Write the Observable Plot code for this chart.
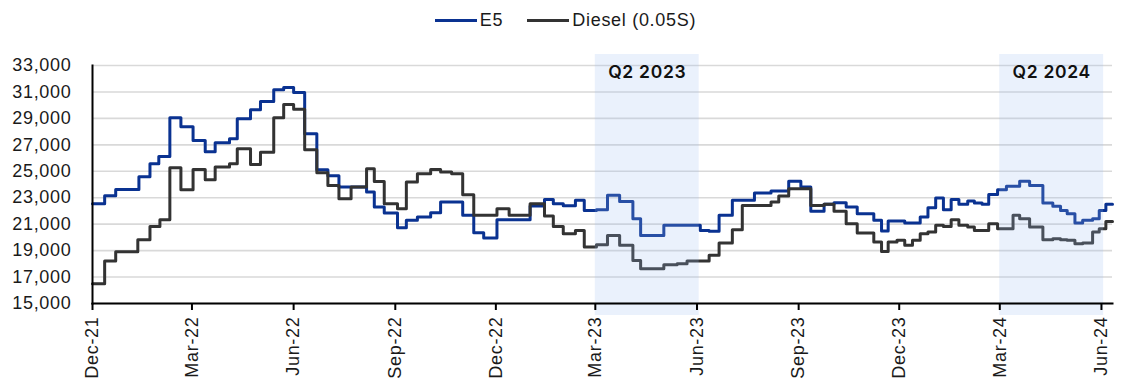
<!DOCTYPE html>
<html>
<head>
<meta charset="utf-8">
<script src="https://cdn.jsdelivr.net/npm/d3@7"></script>
<script src="https://cdn.jsdelivr.net/npm/@observablehq/plot@0.6"></script>
<style>
  html, body { margin: 0; padding: 0; background: #fff; }
  body { width: 1121px; height: 391px; overflow: hidden; font-family: "Liberation Sans", Arial, sans-serif; }
  #legend { height: 40px; display: flex; justify-content: center; align-items: center; gap: 24px; padding-left: 10px; font-size: 18px; letter-spacing: 0.7px; color: #1a1a1a; }
  .item { display: flex; align-items: center; gap: 3px; }
  .sw { width: 42px; height: 3px; display: inline-block; }
  #chart svg { display: block; }
</style>
</head>
<body>
<div id="legend"></div>
<div id="chart"></div>
<script>
// ---- Data (VND/litre), step changes ----
const e5Dates = ["2021-12-01","2021-12-12","2021-12-22","2022-01-12","2022-01-22","2022-01-30","2022-02-09","2022-02-19","2022-03-02","2022-03-13","2022-03-22","2022-04-04","2022-04-11","2022-04-23","2022-05-02","2022-05-14","2022-05-23","2022-06-01","2022-06-11","2022-06-22","2022-07-02","2022-07-12","2022-08-06","2022-08-13","2022-08-22","2022-09-03","2022-09-11","2022-09-21","2022-10-03","2022-10-12","2022-11-01","2022-11-11","2022-11-20","2022-12-02","2023-01-01","2023-01-14","2023-01-22","2023-01-31","2023-02-11","2023-02-19","2023-03-02","2023-03-12","2023-03-23","2023-04-04","2023-04-11","2023-05-02","2023-06-04","2023-06-12","2023-06-21","2023-07-03","2023-07-23","2023-08-07","2023-08-23","2023-09-03","2023-09-12","2023-09-24","2023-10-03","2023-10-14","2023-10-24","2023-11-08","2023-11-15","2023-11-21","2023-12-06","2023-12-20","2023-12-27","2024-01-03","2024-01-10","2024-01-17","2024-01-24","2024-02-01","2024-02-07","2024-02-14","2024-02-20","2024-02-28","2024-03-07","2024-03-19","2024-03-28","2024-04-09","2024-04-18","2024-04-25","2024-05-01","2024-05-08","2024-05-15","2024-05-24","2024-05-30","2024-06-05","2024-06-11"];
const e5Values = [22550,23150,23630,24590,25570,26120,29050,28370,27330,26480,27160,27460,28970,29650,30280,31160,31340,30960,27840,25120,24660,23810,23430,22290,21840,20730,21290,21540,21870,22670,21670,20360,19950,21340,22370,22870,22550,22400,22800,22040,22090,23180,22720,21410,20150,20910,20530,20460,21670,22800,23350,23500,24240,23810,21970,22500,22620,22290,21790,21290,20480,21240,21090,21540,22240,22970,22090,22870,22500,22750,22600,22500,23250,23600,23860,24240,23930,22600,22350,22040,21790,21090,21290,21410,22040,22500,22500];

const dieselDates = ["2021-12-01","2021-12-12","2021-12-22","2022-01-11","2022-01-22","2022-01-31","2022-02-09","2022-02-19","2022-03-02","2022-03-13","2022-03-22","2022-04-04","2022-04-11","2022-04-23","2022-05-02","2022-05-14","2022-05-23","2022-06-01","2022-06-11","2022-06-22","2022-07-02","2022-07-12","2022-07-23","2022-08-06","2022-08-13","2022-08-22","2022-09-03","2022-09-11","2022-09-21","2022-10-03","2022-10-12","2022-10-22","2022-11-01","2022-11-11","2022-12-02","2022-12-13","2023-01-01","2023-01-14","2023-01-22","2023-01-31","2023-02-11","2023-02-19","2023-03-02","2023-03-12","2023-03-23","2023-04-04","2023-04-11","2023-05-02","2023-05-14","2023-05-23","2023-06-12","2023-06-21","2023-07-03","2023-07-12","2023-08-07","2023-08-14","2023-08-23","2023-09-12","2023-09-24","2023-10-03","2023-10-14","2023-10-24","2023-11-08","2023-11-15","2023-11-21","2023-11-29","2023-12-06","2023-12-13","2023-12-20","2023-12-27","2024-01-03","2024-01-10","2024-01-17","2024-01-24","2024-02-01","2024-02-07","2024-02-20","2024-02-28","2024-03-13","2024-03-19","2024-03-28","2024-04-09","2024-04-18","2024-04-25","2024-05-01","2024-05-08","2024-05-15","2024-05-24","2024-05-30","2024-06-05","2024-06-11"];
const dieselValues = [16500,18210,18920,19830,20830,21340,25270,23600,25140,24360,25320,25570,26700,25520,26430,29050,30050,29700,26630,24890,23930,22920,23810,25190,24230,22550,22170,24180,24810,25140,24940,24810,23230,21670,22170,21670,22550,21610,20830,20280,20530,19270,19450,20150,19400,18260,17630,17940,18010,18210,18640,19570,20580,22420,22670,23130,23680,22420,22500,21970,21040,20330,19650,18940,19650,19780,19400,19780,20280,20400,20910,20830,21340,20910,20780,20530,21040,20660,21670,21410,20780,19830,19900,19830,19780,19520,19570,20400,20660,21210,21210];

const seriesNames = ["E5", "Diesel (0.05S)"];
const seriesColors = ["#0a3291", "#333333"];

const bandStarts = ["2023-03-01", "2024-03-01"];
const bandEnds = ["2023-06-03", "2024-06-03"];
const bandLabels = ["Q2 2023", "Q2 2024"];

const xTickDates = ["2021-12-01","2022-03-01","2022-06-01","2022-09-01","2022-12-01","2023-03-01","2023-06-01","2023-09-01","2023-12-01","2024-03-01","2024-06-01"];
const xTickLabels = ["Dec-21","Mar-22","Jun-22","Sep-22","Dec-22","Mar-23","Jun-23","Sep-23","Dec-23","Mar-24","Jun-24"];
const yTicks = [15000,17000,19000,21000,23000,25000,27000,29000,31000,33000];

// ---- Build tables ----
const parse = d3.utcParse("%Y-%m-%d");
const rows = [
  ...e5Dates.map((d, i) => ({date: parse(d), value: e5Values[i], series: seriesNames[0]})),
  ...dieselDates.map((d, i) => ({date: parse(d), value: dieselValues[i], series: seriesNames[1]}))
];
const bands = bandStarts.map((s, i) => ({
  x1: parse(s), x2: parse(bandEnds[i]), label: bandLabels[i],
  mid: new Date((parse(s).getTime() + parse(bandEnds[i]).getTime()) / 2)
}));
const tickDates = xTickDates.map(parse);
const tickLabelOf = new Map(tickDates.map((d, i) => [+d, xTickLabels[i]]));

// ---- Legend ----
const legend = document.getElementById("legend");
seriesNames.forEach((n, i) => {
  const it = document.createElement("span");
  it.className = "item";
  it.innerHTML = `<span class="sw" style="background:${seriesColors[i]}"></span><span>${n}</span>`;
  legend.appendChild(it);
});

// ---- Chart ----
const chart = Plot.plot({
  width: 1121,
  height: 351,
  marginTop: 25,
  marginBottom: 88,
  marginLeft: 92,
  marginRight: 9,
  style: {fontFamily: "'Liberation Sans', Arial, sans-serif", fontSize: "18px", color: "#1a1a1a", letterSpacing: "0.7px"},
  x: {type: "utc", domain: [parse(e5Dates[0]), parse(e5Dates[e5Dates.length - 1])], label: null},
  y: {domain: [15000, 33000], label: null},
  color: {domain: seriesNames, range: seriesColors},
  marks: [
    Plot.gridY(yTicks, {stroke: "#d9d9d9", strokeOpacity: 1, strokeWidth: 1.6}),
    Plot.line(rows, {x: "date", y: "value", z: "series", stroke: "series", strokeWidth: 3, curve: "step-after"}),
    Plot.rect(bands, {x1: "x1", x2: "x2", fill: "#9ebff0", fillOpacity: 0.21, insetTop: -11, insetBottom: -12}),
    Plot.text(bands, {x: "mid", text: "label", frameAnchor: "top", dy: 7, lineAnchor: "middle", fontFamily: "Inter, sans-serif", fontWeight: 600, fontSize: 17.5, fill: "#111", style: {letterSpacing: "0px"}}),
    Plot.axisY(yTicks, {tickSize: 0, tickPadding: 21, tickFormat: d3.format(","), fill: "#1a1a1a", label: null}),
    Plot.axisX(tickDates, {tickSize: 7, tickPadding: 6, tickRotate: -90, tickFormat: d => tickLabelOf.get(+d), stroke: "#000", strokeWidth: 2, fill: "#1a1a1a", label: null}),
    Plot.frame({anchor: "left", stroke: "#000", strokeWidth: 2}),
    Plot.frame({anchor: "bottom", stroke: "#000", strokeWidth: 2})
  ]
});
document.getElementById("chart").appendChild(chart);
</script>
</body>
</html>
